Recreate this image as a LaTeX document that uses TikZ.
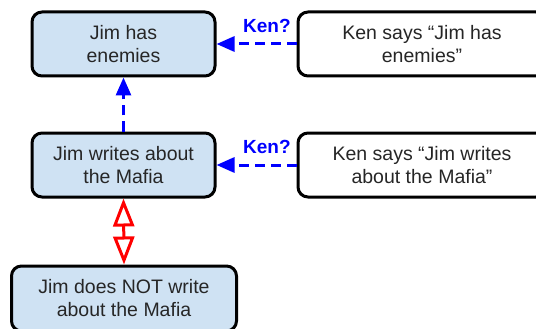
\documentclass[tikz,border=0pt]{standalone}
\usepackage{fontspec}
\setmainfont{Liberation Sans}
\usetikzlibrary{arrows.meta}
\definecolor{boxblue}{HTML}{CFE2F3}
\definecolor{txt}{HTML}{262626}
\begin{document}
\begin{tikzpicture}[x=1pt,y=-1pt,
  box/.style={draw=black, line width=3pt, rounded corners=10pt, align=center,
    text=txt, font=\fontsize{19.5}{23}\selectfont, minimum height=64pt, inner sep=0pt},
  jim/.style={box, fill=boxblue},
  ken/.style={box, fill=white},
  kenarrow/.style={draw=blue, line width=3pt, dash pattern=on 10pt off 6pt,
    -{Triangle[length=18pt,width=15pt,fill=blue,sep=0pt]}},
  kenlabel/.style={text=blue, font=\fontsize{19}{22}\selectfont\bfseries, inner sep=0pt},
  contra/.style={draw=red, line width=3pt,
    {Triangle[open,length=28pt,width=21pt]}-{Triangle[open,length=28pt,width=21pt]}}
]
\useasboundingbox (0,0) rectangle (536,329);
\node[jim, minimum width=183pt] (enem) at (123.5,44) {Jim has\\enemies};
\node[ken, minimum width=248pt] (kenenem) at (422,44) {Ken says “Jim has\\enemies”};
\node[jim, minimum width=183pt] (mafia) at (123.5,165) {Jim writes about\\the Mafia};
\node[ken, minimum width=248pt] (kenmafia) at (422,165) {Ken says “Jim writes\\about the Mafia”};
\node[jim, minimum width=225pt, minimum height=65pt] (notmafia) at (124,298.5) {Jim does NOT write\\about the Mafia};

\draw[kenarrow] (kenenem.west) -- (enem.east)
  node[kenlabel, pos=0.37, above=10pt] (k1) {Ken?};
\draw[kenarrow] (kenmafia.west) -- (mafia.east)
  node[kenlabel, pos=0.37, above=10pt] (k2) {Ken?};
\draw[kenarrow] (mafia.north) -- (enem.south);
\draw[contra] (mafia.south) -- (notmafia.north);
\end{tikzpicture}
\end{document}
